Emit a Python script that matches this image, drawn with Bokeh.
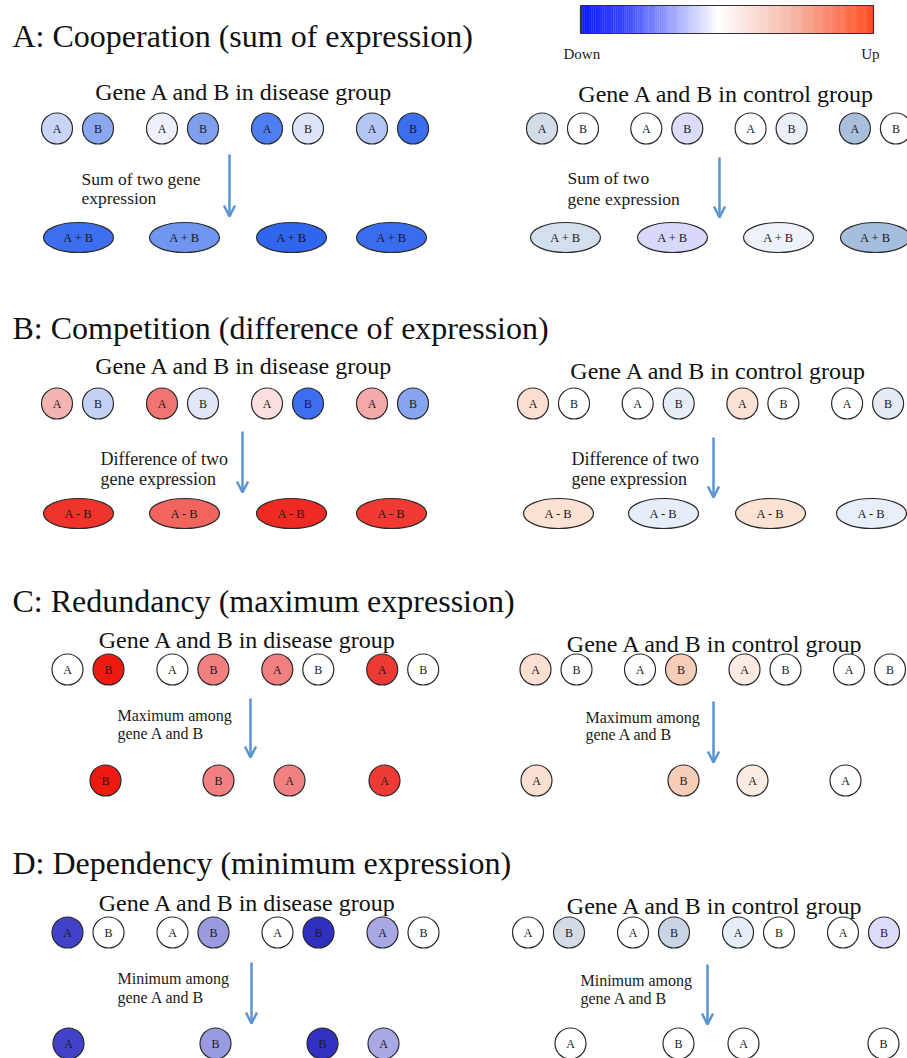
from bokeh.plotting import figure
from bokeh.models import Range1d, ColumnDataSource, Arrow, OpenHead
from bokeh.core.properties import value
from bokeh.embed import file_html
from bokeh.resources import INLINE

# ---------------- data ----------------
section_keys = ["A", "B", "C", "D"]
section_titles = ["A: Cooperation (sum of expression)",
                  "B: Competition (difference of expression)",
                  "C: Redundancy (maximum expression)",
                  "D: Dependency (minimum expression)"]
group_titles = ["Gene A and B in disease group", "Gene A and B in control group"]
gene_labels = ["A", "B"]
colorbar_labels = ["Down", "Up"]
colorbar_stops = ["#0d1bff", "#3848ff", "#ffffff", "#f5b8a8", "#ff4b1f"]
colorbar_stop_pos = [0.0, 0.15, 0.47, 0.72, 1.0]

# notes next to the arrows (disease, control)
notes_A = (["Sum of two gene", "expression"], ["Sum of two", "gene expression"])
notes_B = (["Difference of two", "gene expression"], ["Difference of two", "gene expression"])
notes_C = (["Maximum  among", "gene A and B"], ["Maximum among", "gene A and B"])
notes_D = (["Minimum among", "gene A and B"], ["Minimum among", "gene A and B"])

# expression colour of gene A and gene B for each of the 4 samples
A_disease_genes = [("#c8d5f6", "#8ba8f1"), ("#eef1fb", "#7f9ff0"), ("#4f7ef0", "#dde4fa"), ("#b3c6f4", "#3c6ef0")]
A_control_genes = [("#d3dde9", "#ffffff"), ("#ffffff", "#dcdcfb"), ("#ffffff", "#eaf0f8"), ("#a9bfdc", "#ffffff")]
B_disease_genes = [("#f4b4b2", "#c3d1f6"), ("#f07470", "#e1e7f8"), ("#fbe0df", "#3c6ef0"), ("#f4aaa8", "#87a5f0")]
B_control_genes = [("#fbe0d2", "#ffffff"), ("#ffffff", "#e6eef8"), ("#fbe2d4", "#ffffff"), ("#ffffff", "#e3ebf5")]
C_disease_genes = [("#ffffff", "#ee1a10"), ("#ffffff", "#f28080"), ("#f28080", "#ffffff"), ("#ee3a34", "#ffffff")]
C_control_genes = [("#fbe0d2", "#ffffff"), ("#ffffff", "#f6cdb8"), ("#fcebe2", "#ffffff"), ("#ffffff", "#ffffff")]
D_disease_genes = [("#4242c8", "#ffffff"), ("#ffffff", "#9a9ae0"), ("#ffffff", "#3030c0"), ("#a8a8e4", "#ffffff")]
D_control_genes = [("#ffffff", "#d5dbe6"), ("#ffffff", "#c9d4e4"), ("#e6eef8", "#ffffff"), ("#ffffff", "#dcdcfa")]

# combined result per sample: (label, colour)
A_disease_result = [("A + B", "#3e6ef0"), ("A + B", "#7096f0"), ("A + B", "#3065ee"), ("A + B", "#3a6cf0")]
A_control_result = [("A + B", "#d3dfee"), ("A + B", "#d7d8fa"), ("A + B", "#eef3fa"), ("A + B", "#a6bedd")]
B_disease_result = [("A - B", "#f0342c"), ("A - B", "#f2655e"), ("A - B", "#ef2a22"), ("A - B", "#f03a33")]
B_control_result = [("A - B", "#fbe2d3"), ("A - B", "#e6eff9"), ("A - B", "#fbe2d3"), ("A - B", "#e8eff8")]
C_disease_result = [("B", "#ee1a10"), ("B", "#f28080"), ("A", "#f28282"), ("A", "#ee3a34")]
C_control_result = [("A", "#fbe0d2"), ("B", "#f6cdb8"), ("A", "#fcebe2"), ("A", "#ffffff")]
D_disease_result = [("A", "#4242c8"), ("B", "#9a9ae0"), ("B", "#3232c2"), ("A", "#a8a8e4")]
D_control_result = [("A", "#ffffff"), ("B", "#ffffff"), ("A", "#ffffff"), ("B", "#ffffff")]

data = {
    "A": (A_disease_genes, A_control_genes, A_disease_result, A_control_result, notes_A),
    "B": (B_disease_genes, B_control_genes, B_disease_result, B_control_result, notes_B),
    "C": (C_disease_genes, C_control_genes, C_disease_result, C_control_result, notes_C),
    "D": (D_disease_genes, D_control_genes, D_disease_result, D_control_result, notes_D),
}

# ---------------- layout (pixel space of the picture) ----------------
layout = {
    "A": dict(title=35, pair_y=128, res_y=237, shape="ellipse",
              dis=dict(x0=77, step=105, sub=(244, 91), arrow=(229, 154, 216), note=(81, 178, 197, "17.5px"), off=[1, 2, 4, -1]),
              ctl=dict(x0=562, step=104.3, sub=(726.5, 93), arrow=(719, 157, 217), note=(567, 177, 198, "17.5px"), off=[3, 5.7, 7.4, 0])),
    "B": dict(title=327, pair_y=403, res_y=513, shape="ellipse",
              dis=dict(x0=77, step=105, sub=(244, 365), arrow=(242, 431, 492), note=(100, 458, 478, "18px"), off=[1, 2, 4, -1]),
              ctl=dict(x0=553, step=104.7, sub=(718.5, 370), arrow=(713, 437, 497), note=(571, 458, 478, "18px"), off=[5, 5.3, 7.6, 3.9])),
    "C": dict(title=600, pair_y=669, res_y=780, shape="circle",
              dis=dict(x0=87.5, step=104.9, sub=(247.5, 639), arrow=(250, 698, 757), note=(117, 715, 733, "16px"), off=[17.5, 25.6, -8.3, -18.2]),
              ctl=dict(x0=555.5, step=104.5, sub=(715, 643), arrow=(713, 701, 762), note=(585, 717, 734, "16px"), off=[-19.5, 23, -12.5, -24])),
    "D": dict(title=862, pair_y=932, res_y=1043, shape="circle",
              dis=dict(x0=87.5, step=105, sub=(247.5, 902), arrow=(251, 962, 1023), note=(117, 978, 997, "16px"), off=[-19.5, 22.5, 24.5, -19.5]),
              ctl=dict(x0=548, step=105, sub=(715, 905), arrow=(707, 964, 1024), note=(580, 980, 998, "16px"), off=[22, 25, -15, 20])),
}
HALF = 20.5
R = 15.5
SERIF = value("Liberation Serif")
ARROW_C = "#5b95d0"
EDGE = "#2a2a2a"

p = figure(width=907, height=1058, x_range=Range1d(0, 907), y_range=Range1d(1058, 0),
           output_backend="svg", toolbar_location=None, min_border=0,
           x_axis_location=None, y_axis_location=None)
p.grid.visible = False
p.outline_line_color = None
p.background_fill_color = "white"

# colour bar
def hex2rgb(h):
    return tuple(int(h[i:i + 2], 16) for i in (1, 3, 5))

N = 160
cb_x0, cb_x1, cb_y0, cb_y1 = 580, 873, 5, 33
cl, cr, cc = [], [], []
stops = [hex2rgb(c) for c in colorbar_stops]
for i in range(N):
    t = (i + 0.5) / N
    for k in range(len(colorbar_stop_pos) - 1):
        if colorbar_stop_pos[k] <= t <= colorbar_stop_pos[k + 1]:
            f = (t - colorbar_stop_pos[k]) / (colorbar_stop_pos[k + 1] - colorbar_stop_pos[k])
            c = tuple(int(round(stops[k][j] + (stops[k + 1][j] - stops[k][j]) * f)) for j in range(3))
            break
    w = (cb_x1 - cb_x0) / N
    cl.append(cb_x0 + i * w)
    cr.append(cb_x0 + (i + 1) * w + 0.3)
    cc.append("#%02x%02x%02x" % c)
p.quad(left=cl, right=cr, top=[cb_y0] * N, bottom=[cb_y1] * N, fill_color=cc, line_color=None)
p.quad(left=[cb_x0], right=[cb_x1], top=[cb_y0], bottom=[cb_y1], fill_color=None, line_color="#333333", line_width=1.2)
p.text(x=[563], y=[53], text=[colorbar_labels[0]], text_font=SERIF, text_font_size=value("15px"),
       text_baseline="alphabetic", text_align="left", text_color="#222222")
p.text(x=[879], y=[53], text=[colorbar_labels[1]], text_font=SERIF, text_font_size=value("15px"),
       text_baseline="alphabetic", text_align="right", text_color="#222222")

circ = dict(x=[], y=[], c=[])
lab = dict(x=[], y=[], t=[])
ell = dict(x=[], y=[], c=[])
elab = dict(x=[], y=[], t=[])
arrows = dict(x0=[], y0=[], x1=[], y1=[])

for si, key in enumerate(section_keys):
    L = layout[key]
    dis_genes, ctl_genes, dis_res, ctl_res, notes = data[key]
    p.text(x=[12], y=[L["title"]], text=[section_titles[si]], text_font=SERIF, text_font_size=value("32px"),
           text_baseline="alphabetic", text_align="left", text_color="#111111")
    for gi, (gname, genes, res) in enumerate([("dis", dis_genes, dis_res), ("ctl", ctl_genes, ctl_res)]):
        G = L[gname]
        sx, sb = G["sub"]
        p.text(x=[sx], y=[sb], text=[group_titles[gi]], text_font=SERIF, text_font_size=value("24px"),
               text_baseline="alphabetic", text_align="center", text_color="#111111")
        for k in range(4):
            cx = G["x0"] + k * G["step"]
            for j in range(2):
                gx = cx + (-HALF if j == 0 else HALF)
                circ["x"].append(gx); circ["y"].append(L["pair_y"]); circ["c"].append(genes[k][j])
                lab["x"].append(gx); lab["y"].append(L["pair_y"] + 0.5); lab["t"].append(gene_labels[j])
            rx = cx + G["off"][k]
            if L["shape"] == "ellipse":
                ell["x"].append(rx); ell["y"].append(L["res_y"]); ell["c"].append(res[k][1])
                elab["x"].append(rx); elab["y"].append(L["res_y"] + 0.5); elab["t"].append(res[k][0])
            else:
                circ["x"].append(rx); circ["y"].append(L["res_y"]); circ["c"].append(res[k][1])
                lab["x"].append(rx); lab["y"].append(L["res_y"] + 0.5); lab["t"].append(res[k][0])
        ax, ay0, ay1 = G["arrow"]
        arrows["x0"].append(ax); arrows["y0"].append(ay0); arrows["x1"].append(ax); arrows["y1"].append(ay1)
        nx, nb1, nb2, nsz = G["note"]
        p.text(x=[nx, nx], y=[nb1, nb2], text=list(notes[gi]), text_font=SERIF, text_font_size=value(nsz),
               text_baseline="alphabetic", text_align="left", text_color="#1a1a1a")

p.ellipse(x="x", y="y", width=70, height=30, fill_color="c", line_color=EDGE, line_width=1.2,
          source=ColumnDataSource(ell))
p.text(x="x", y="y", text="t", text_font=SERIF, text_font_size=value("12.5px"), text_align="center",
       text_baseline="middle", text_color="#1a1a1a", source=ColumnDataSource(elab))
p.circle(x="x", y="y", radius=R, fill_color="c", line_color=EDGE, line_width=1.2,
         source=ColumnDataSource(circ))
p.text(x="x", y="y", text="t", text_font=SERIF, text_font_size=value("12px"), text_align="center",
       text_baseline="middle", text_color="#1a1a1a", source=ColumnDataSource(lab))

p.add_layout(Arrow(end=OpenHead(size=11, line_color=ARROW_C, line_width=2.5),
                   x_start="x0", y_start="y0", x_end="x1", y_end="y1",
                   line_color=ARROW_C, line_width=2.5, source=ColumnDataSource(arrows)))

open("out.html", "w").write(file_html(p, INLINE))
